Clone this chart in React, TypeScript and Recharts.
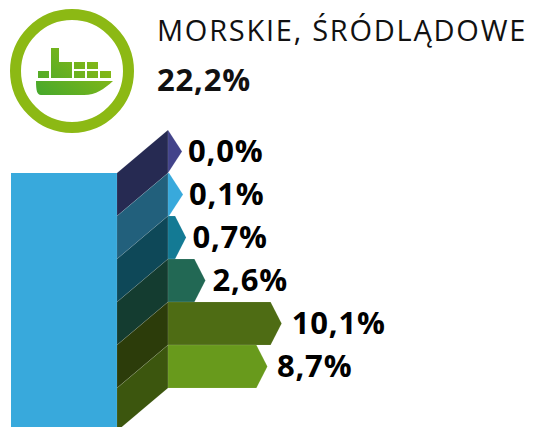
import { BarChart, Bar, XAxis, YAxis, LabelList } from "recharts";

const categories = ["a", "b", "c", "d", "e", "f"];
const shares = [0.0, 0.1, 0.7, 2.6, 10.1, 8.7];
const totalShare = 22.2;
const title = "MORSKIE, ŚRÓDLĄDOWE";

const barColors = ["#42438a", "#38a9dc", "#137a94", "#226854", "#4e6c14", "#689a1c"];
const faceColors = ["#262a52", "#22607c", "#0e4858", "#143c30", "#2c3c0a", "#3c560e"];

const rows = categories.map((name, i) => ({ name, share: shares[i] }));
const FONT = "'Open Sans', sans-serif";

function ArrowBar(props: any) {
  const { x, y, width, height, index } = props;
  const tip = width < 5 ? 14 : 11;
  const end = x + width;
  return (
    <g>
      <polygon
        points={`${x},${y} ${x},${y + height} ${x - 51},${y + height * 2} ${x - 51},${y + height}`}
        fill={faceColors[index]}
        stroke="#ffffff"
        strokeOpacity={0.2}
        strokeWidth={0.5}
      />
      <polygon
        points={`${x},${y} ${end},${y} ${end + tip},${y + height / 2} ${end},${y + height} ${x},${y + height}`}
        fill={barColors[index]}
        stroke="#ffffff"
        strokeOpacity={0.2}
        strokeWidth={0.5}
      />
    </g>
  );
}

function ShareLabel(props: any) {
  const { x, y, width, height, value } = props;
  const tip = width < 5 ? 14 : 11;
  return (
    <text
      x={x + width + tip + 6 + width * 0.04}
      y={y + height / 2 - 2}
      dominantBaseline="central"
      fontFamily={FONT}
      fontWeight={700}
      fontSize={31}
      letterSpacing={0.8}
      fill="#000"
    >
      {value.toFixed(1).replace(".", ",")}%
    </text>
  );
}

export default function App() {
  return (
    <div style={{ position: "fixed", left: 0, top: 0, width: 547, height: 427, overflow: "hidden", background: "#fff" }}>
      <div style={{ position: "absolute", left: 11, top: 173 }}>
        <BarChart
          width={106}
          height={254}
          layout="vertical"
          data={[{ name: "total", share: totalShare }]}
          margin={{ top: 0, right: 0, bottom: 0, left: 0 }}
          barCategoryGap={0}
        >
          <XAxis type="number" hide domain={[0, totalShare]} />
          <YAxis type="category" dataKey="name" hide />
          <Bar dataKey="share" fill="#38a9dc" isAnimationActive={false} />
        </BarChart>
      </div>

      <div style={{ position: "absolute", left: 0, top: 0 }}>
        <BarChart
          width={547}
          height={427}
          layout="vertical"
          data={rows}
          margin={{ top: 130, right: 0, bottom: 39, left: 168 }}
          barCategoryGap={0}
        >
          <XAxis type="number" hide domain={[0, 37.3]} />
          <YAxis type="category" dataKey="name" hide />
          <Bar dataKey="share" shape={ArrowBar} isAnimationActive={false}>
            <LabelList dataKey="share" content={ShareLabel} />
          </Bar>
        </BarChart>
      </div>

      <svg width={547} height={140} style={{ position: "absolute", left: 0, top: 0 }}>
        <defs>
          <linearGradient id="shipFill" x1="0" y1="1" x2="1" y2="0.3">
            <stop offset="0" stopColor="#45a82c" />
            <stop offset="1" stopColor="#8cb914" />
          </linearGradient>
        </defs>
        <circle cx={72} cy={71} r={56.5} fill="none" stroke="#8cb914" strokeWidth={11} />
        <path
          fill="url(#shipFill)"
          d="M51 48h8v14h13v16H51z M38 71h11v7H38z M74 62h11v7H74z M87 62h11v7H87z M74 71h11v7H74z M87 71h11v7H87z M100 71h11v7h-11z M36 81H113C104 89 96 95 84 95H41C37 95 36 90 36 81z"
        />
        <text x={157} y={41} fontFamily={FONT} fontSize={29} letterSpacing={1.75} fill="#111">{title}</text>
        <text x={157} y={91} fontFamily={FONT} fontWeight={700} fontSize={31} letterSpacing={0.8} fill="#111">
          {totalShare.toFixed(1).replace(".", ",")}%
        </text>
      </svg>
    </div>
  );
}
